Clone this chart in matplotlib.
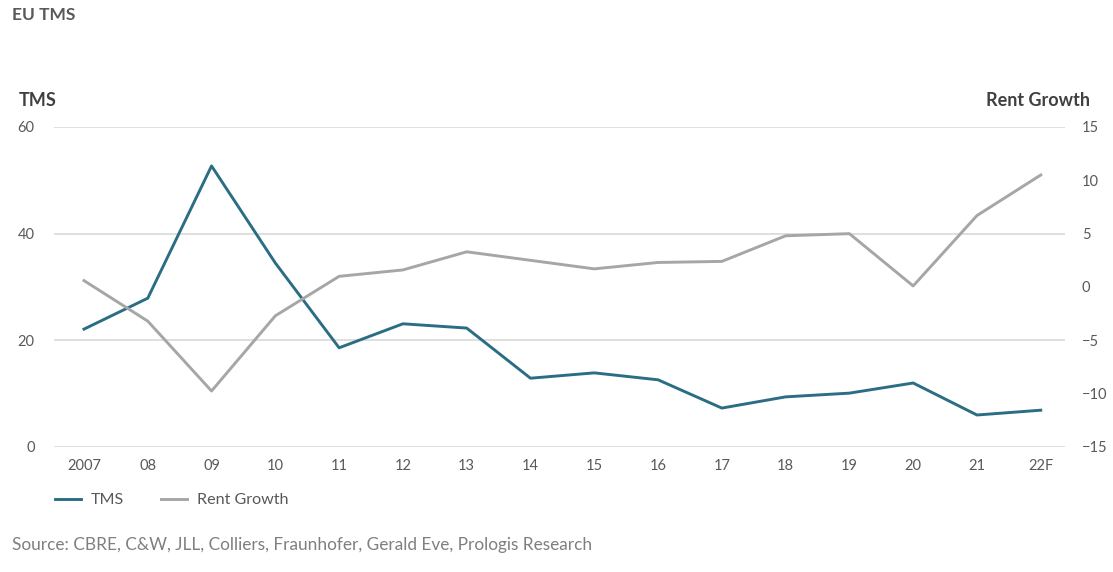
import matplotlib
matplotlib.use("Agg")
import matplotlib.pyplot as plt
from matplotlib.lines import Line2D

plt.rcParams['font.family'] = ['Lato', 'DejaVu Sans']

years = ["2007", "08", "09", "10", "11", "12", "13", "14", "15", "16", "17", "18", "19", "20", "21", "22F"]
tms = [22.1, 27.9, 52.7, 34.5, 18.6, 23.1, 22.3, 12.9, 13.9, 12.6, 7.3, 9.4, 10.1, 12.0, 6.0, 6.9]
rent_growth = [0.6, -3.2, -9.75, -2.7, 1.0, 1.6, 3.3, 2.5, 1.7, 2.3, 2.4, 4.8, 5.0, 0.1, 6.7, 10.5]

W, H = 1113, 572
fig = plt.figure(figsize=(W / 100, H / 100), dpi=100)
left, right, top, bottom = 54, 1065, 127, 447
ax = fig.add_axes([left / W, 1 - bottom / H, (right - left) / W, (bottom - top) / H])
ax2 = ax.twinx()

teal = "#2b6e84"
gray = "#a6a6a6"
txt = "#595959"

x = list(range(len(years)))
ax.plot(x, tms, color=teal, lw=2.1, zorder=3)
ax2.plot(x, rent_growth, color=gray, lw=2.1, zorder=3)

ax.set_ylim(0, 60)
ax.set_yticks([0, 20, 40, 60])
ax2.set_ylim(-15, 15)
ax2.set_yticks([-15, -10, -5, 0, 5, 10, 15])
ax.set_xlim(-0.47, 15.38)
ax.set_xticks(x)
ax.set_xticklabels(years)

ax.grid(axis='y', color="#d9d9d9", lw=1.2)
ax.set_axisbelow(True)
for a in (ax, ax2):
    for s in a.spines.values():
        s.set_visible(False)
    a.tick_params(length=0, colors=txt, labelsize=10.5)
ax.tick_params(axis='y', pad=14)
ax2.tick_params(axis='y', pad=12)
ax.tick_params(axis='x', pad=9)

fig.text(12 / W, 1 - 15 / H, "EU TMS", fontsize=12.5, fontweight='bold', color=txt, va='center', ha='left')
fig.text(19 / W, 1 - 100 / H, "TMS", fontsize=13, fontweight='bold', color="#404040", va='center', ha='left')
fig.text(1090 / W, 1 - 100 / H, "Rent Growth", fontsize=13, fontweight='bold', color="#404040", va='center', ha='right')

handles = [Line2D([], [], color=teal, lw=2.1), Line2D([], [], color=gray, lw=2.1)]
fig.legend(handles, ["TMS", "Rent Growth"], loc='center left', bbox_to_anchor=(41 / W, 1 - 500 / H),
           ncol=2, frameon=False, fontsize=11.6, labelcolor=txt, handlelength=1.6, columnspacing=2.3,
           handletextpad=0.6)

fig.text(12 / W, 1 - 545 / H, "Source: CBRE, C&W, JLL, Colliers, Fraunhofer, Gerald Eve, Prologis Research",
         fontsize=12.4, color="#7f7f7f", va='center', ha='left')

fig.savefig("out.png", dpi=100, facecolor="white")
